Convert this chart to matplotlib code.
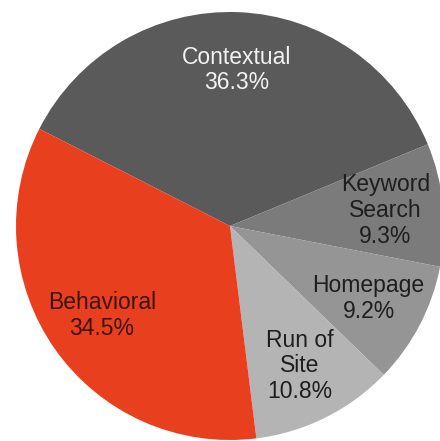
import matplotlib
matplotlib.use("Agg")
import matplotlib.pyplot as plt

categories = ["Contextual", "Keyword\nSearch", "Homepage", "Run of\nSite", "Behavioral"]
values = [36.3, 9.3, 9.2, 10.8, 34.5]
colors = ["#5a5a5a", "#7b7b7b", "#959595", "#b4b4b4", "#e8401f"]
text_colors = ["#f2f2f2", "#1e1e1e", "#1e1e1e", "#1e1e1e", "#3a1208"]

plt.rcParams['font.family'] = ['Liberation Sans', 'DejaVu Sans']

fig = plt.figure(figsize=(4.40, 4.41), dpi=100)
ax = fig.add_axes([0, 0, 1, 1])
labels = [f"{c}\n{v:.1f}%" for c, v in zip(categories, values)]
wedges, texts = ax.pie(values, labels=labels, colors=colors, startangle=153,
                       counterclock=False, labeldistance=0.73,
                       wedgeprops=dict(linewidth=0),
                       textprops=dict(ha='center', va='center', fontsize=16.5,
                                      linespacing=1.15))
for t, c in zip(texts, text_colors):
    t.set_color(c)

R = 214.0
ax.set_xlim(-230 / R, 210 / R)
ax.set_ylim(-(441 - 226) / R, 226 / R)
ax.set_aspect('auto')
ax.axis('off')
fig.savefig("out.png", dpi=100, facecolor="white")
